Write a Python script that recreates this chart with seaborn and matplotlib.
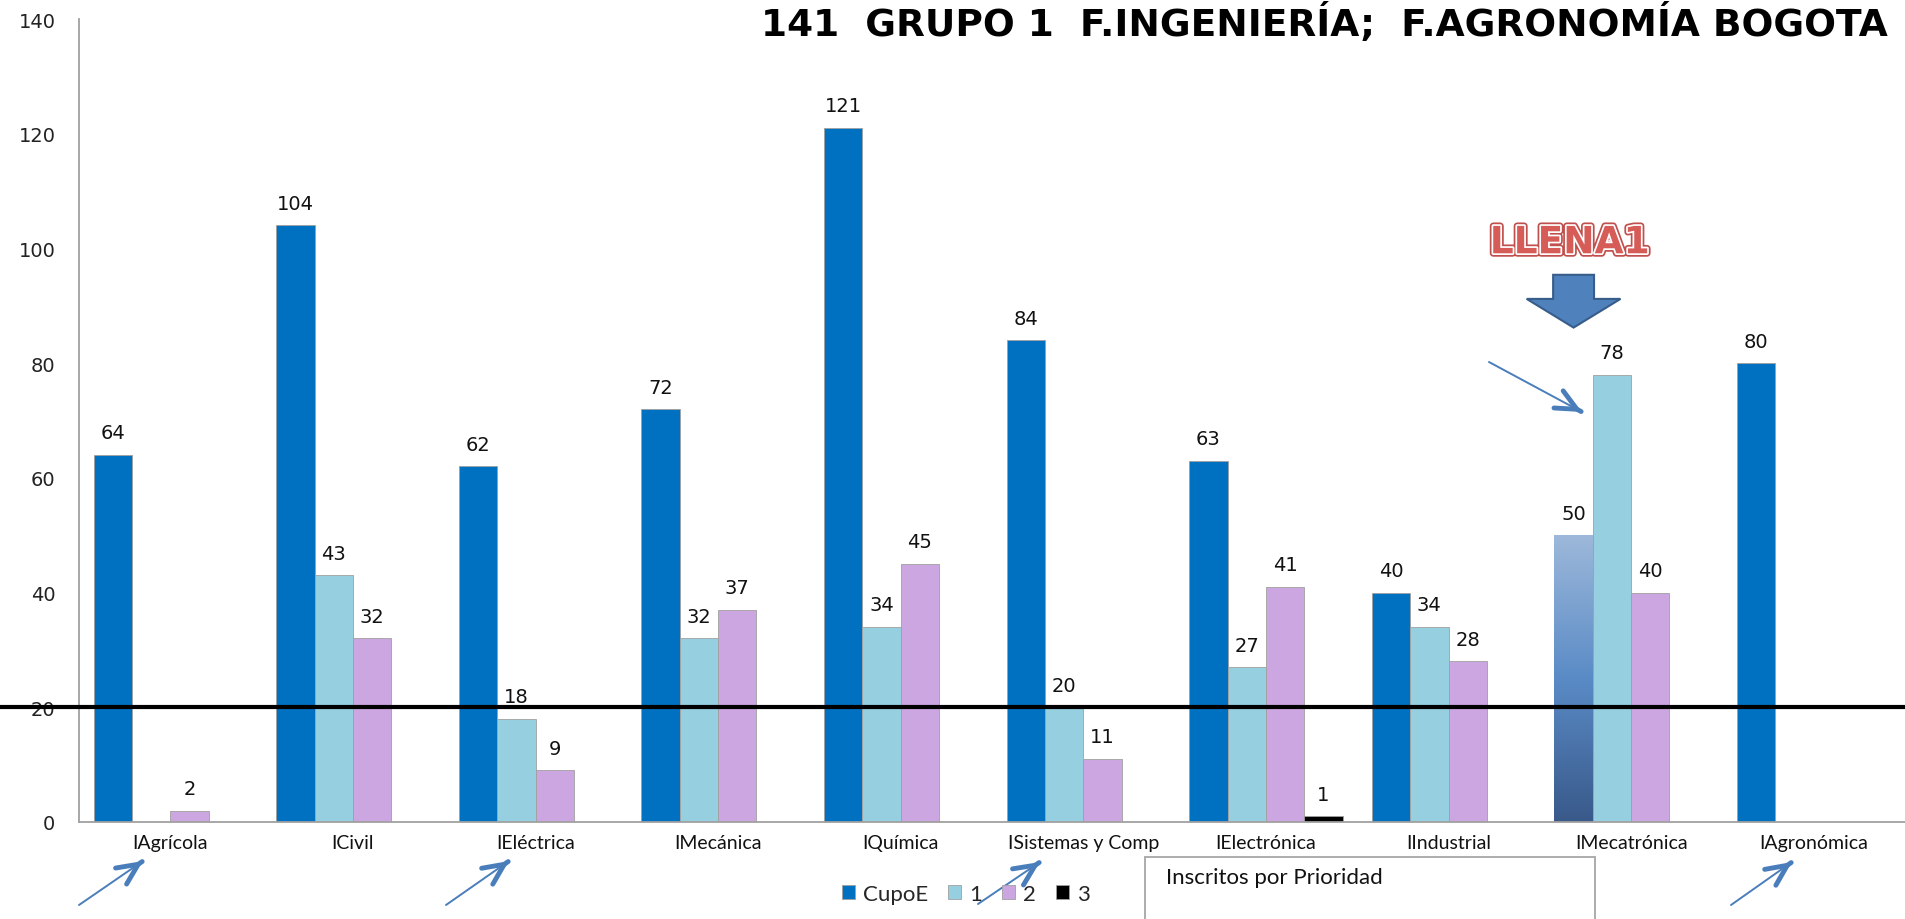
import numpy as np
import pandas as pd
import matplotlib
matplotlib.use("Agg")
import matplotlib.pyplot as plt
import seaborn as sns
from matplotlib.colors import LinearSegmentedColormap
from matplotlib.patches import Rectangle, Polygon
from matplotlib.ticker import FixedLocator
import matplotlib.patheffects as pe

# ---------------- data ----------------
categories = ["IAgrícola", "ICivil", "IEléctrica", "IMecánica", "IQuímica",
              "ISistemas y Comp", "IElectrónica", "IIndustrial", "IMecatrónica", "IAgronómica"]
cupo_e = [64, 104, 62, 72, 121, 84, 63, 40, 50, 80]
prio_1 = [np.nan, 43, 18, 32, 34, 20, 27, 34, 78, np.nan]
prio_2 = [2, 32, 9, 37, 45, 11, 41, 28, 40, np.nan]
prio_3 = [np.nan, np.nan, np.nan, np.nan, np.nan, np.nan, 1, np.nan, np.nan, np.nan]
series_names = ["CupoE", "1", "2", "3"]
series_colors = ["#0070C0", "#96CFDF", "#CBA6E1", "#000000"]
threshold = 20
highlight_cat = "IMecatrónica"
title_text = "141  GRUPO 1  F.INGENIERÍA;  F.AGRONOMÍA BOGOTA"
callout_text = "LLENA1"
box_text = "Inscritos por Prioridad"
y_ticks = [0, 20, 40, 60, 80, 100, 120, 140]

rows = []
for name, vals in zip(series_names, [cupo_e, prio_1, prio_2, prio_3]):
    for c, v in zip(categories, vals):
        if not np.isnan(v):
            rows.append({"cat": c, "serie": name, "valor": v})
df = pd.DataFrame(rows)

# ---------------- figure ----------------
sns.set_style("white")
plt.rcParams["font.family"] = ["DejaVu Sans"]

W, H = 1905, 920
fig = plt.figure(figsize=(W / 100, H / 100), dpi=100)
ax = fig.add_axes([79 / W, 1 - 823 / H, 1 - 79 / W, (823 - 20) / H])

sns.barplot(data=df, x="cat", y="valor", hue="serie", order=categories,
            hue_order=series_names, palette=series_colors, saturation=1, width=0.84,
            errorbar=None, edgecolor="#A0A0A0", linewidth=0.6, ax=ax)

ax.set_xlim(-0.5, len(categories) - 0.5)
ax.set_ylim(0, 140)
ax.set_yticks(y_ticks)
ax.set_xlabel("")
ax.set_ylabel("")

# spines / ticks
for s in ["top", "right"]:
    ax.spines[s].set_visible(False)
for s in ["left", "bottom"]:
    ax.spines[s].set_color("#A0A0A0")
    ax.spines[s].set_linewidth(1.3)
ax.tick_params(axis="y", length=0, pad=17, labelsize=14, labelcolor="#222222")
ax.tick_params(axis="x", which="major", length=0, pad=9)
ax.xaxis.set_minor_locator(FixedLocator(np.arange(0.5, len(categories) - 0.5, 1)))
ax.tick_params(axis="x", which="minor", direction="in", length=5, color="#888888", width=1)
for lab in ax.get_xticklabels():
    lab.set_fontfamily("Lato")
    lab.set_fontsize(14)
    lab.set_color("#111111")

# data labels
for cont in ax.containers:
    ax.bar_label(cont, fmt="%g", padding=9, fontsize=14, color="#111111")

# gradient fill for highlighted CupoE bar
hi_idx = categories.index(highlight_cat)
patch = ax.containers[0][hi_idx]
x0, y0 = patch.get_xy()
w, h = patch.get_width(), patch.get_height()
cmap = LinearSegmentedColormap.from_list("grad", ["#39598A", "#5A8BC6", "#9DB8DA"])
grad = np.linspace(0, 1, 256).reshape(-1, 1)
im = ax.imshow(grad, extent=[x0, x0 + w, y0, y0 + h], origin="lower", cmap=cmap,
               aspect="auto", zorder=patch.get_zorder() + 0.1)
im.set_clip_path(patch)
ax.set_xlim(-0.5, len(categories) - 0.5)
ax.set_ylim(0, 140)

# threshold line across whole figure width
ax.axhline(threshold, xmin=-79 / (W - 79), xmax=1, color="black", lw=3, clip_on=False, zorder=5)

# big down arrow + LLENA1 callout above highlighted bar
cx = x0 + w / 2
arrow_pts = [(cx - 0.112, 95.4), (cx + 0.112, 95.4), (cx + 0.112, 91.2), (cx + 0.257, 91.2),
             (cx, 86.2), (cx - 0.257, 91.2), (cx - 0.112, 91.2)]
ax.add_patch(Polygon(arrow_pts, closed=True, facecolor="#4F81BD", edgecolor="#385D8A",
                     lw=1.5, zorder=6))
ax.text(cx - 0.02, 100.9, callout_text, ha="center", va="center", fontsize=27, fontweight="bold",
        color="#D65C58", zorder=7,
        path_effects=[pe.Stroke(linewidth=5, foreground="#C0504D"),
                      pe.Stroke(linewidth=2.5, foreground="white"), pe.Normal()])

# thin blue pointer arrows (figure pixel coordinates, origin bottom-left)
arrow_color = "#4A7EBB"
pointer_arrows = [((79, 906), (143, 862)), ((446, 906), (509, 862)),
                  ((978, 905), (1040, 863)), ((1731, 906), (1792, 863)),
                  ((1489, 363), (1582, 413))]
for (tx, ty), (hx, hy) in pointer_arrows:
    tail = (tx, H - ty)
    tip = (hx, H - hy)
    ax.annotate("", xy=tip, xytext=tail, xycoords="figure pixels", textcoords="figure pixels",
                arrowprops=dict(arrowstyle="-", lw=1.4, color=arrow_color,
                                shrinkA=0, shrinkB=0), annotation_clip=False)
    d = np.array(tip) - np.array(tail)
    near = tuple(np.array(tip) - d / np.linalg.norm(d) * 1.0)
    ax.annotate("", xy=tip, xytext=near, xycoords="figure pixels", textcoords="figure pixels",
                arrowprops=dict(arrowstyle="->,head_length=0.75,head_width=0.35", lw=3.5,
                                color=arrow_color, shrinkA=0, shrinkB=0, mutation_scale=20),
                annotation_clip=False)

# title
fig.text(1888 / W, 1 - 24 / H, title_text, ha="right", va="center", fontsize=27,
         fontweight="bold", color="black")

# legend
sns.move_legend(ax, "center", bbox_to_anchor=(966 / W, 1 - 895 / H),
                bbox_transform=fig.transFigure, ncol=4, frameon=False, title=None,
                prop={"family": "Lato", "size": 16}, handlelength=0.6, handleheight=0.6,
                handletextpad=0.35, columnspacing=0.9)

# box with text
fig.add_artist(Rectangle((1145 / W, -0.02), 450 / W, 0.02 + (H - 858) / H,
                         transform=fig.transFigure, fill=False, edgecolor="#A6A6A6", lw=1.3))
fig.text(1166 / W, 1 - 878 / H, box_text, ha="left", va="center", fontsize=16,
         family="Lato", color="#111111")

fig.savefig("out.png", dpi=100)
